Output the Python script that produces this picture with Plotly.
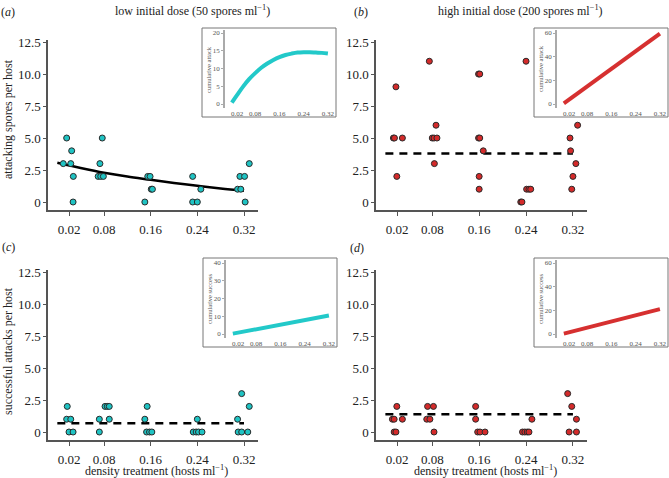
import plotly.graph_objects as go

W, H = 669, 478

# ---------------- data ----------------
density_ticks = [0.02, 0.08, 0.16, 0.24, 0.32]
density_labels = ["0.02", "0.08", "0.16", "0.24", "0.32"]
y_ticks = [0, 2.5, 5, 7.5, 10, 12.5]
y_labels = ["0", "2.5", "5.0", "7.5", "10.0", "12.5"]

# (a) attacking spores per host, low dose (jittered densities)
a_x = [0.016, 0.077, 0.0246, 0.0102, 0.023, 0.073, 0.329, 0.0274, 0.070, 0.0744, 0.0789,
       0.155, 0.159, 0.232, 0.313, 0.321, 0.161, 0.163, 0.246, 0.309, 0.3145,
       0.027, 0.150, 0.232, 0.240, 0.322]
a_y = [5, 5, 4, 3, 3, 3, 3, 2, 2, 2, 2,
       2, 2, 2, 2, 2, 1, 1, 1, 1, 1,
       0, 0, 0, 0, 0]
a_fit_x = [0.0, 0.04, 0.08, 0.12, 0.16, 0.20, 0.24, 0.28, 0.32]
a_fit_y = [3.07, 2.66, 2.29, 1.99, 1.74, 1.49, 1.27, 1.06, 0.88]

# (b) attacking spores per host, high dose
b_x = [0.075, 0.240, 0.159, 0.161, 0.018, 0.0864, 0.328, 0.0137, 0.0155, 0.029, 0.080,
       0.083, 0.088, 0.159, 0.161, 0.315, 0.167, 0.316, 0.0836, 0.325, 0.0195, 0.160,
       0.320, 0.160, 0.241, 0.245, 0.248, 0.318, 0.231, 0.233]
b_y = [11, 11, 10, 10, 9, 6, 6, 5, 5, 5, 5,
       5, 5, 5, 5, 5, 4, 4, 3, 3, 2, 2,
       2, 1, 1, 1, 1, 1, 0, 0]
b_mean = 3.8

# (c) successful attacks per host, low dose
c_x = [0.017, 0.016, 0.023, 0.020, 0.027, 0.0818, 0.0857, 0.089, 0.072, 0.089, 0.072,
       0.154, 0.150, 0.153, 0.158, 0.162, 0.240, 0.233, 0.238, 0.242, 0.248,
       0.316, 0.329, 0.309, 0.310, 0.316, 0.3265]
c_y = [2, 1, 1, 0, 0, 2, 2, 2, 1, 1, 0,
       2, 1, 0, 0, 0, 1, 0, 0, 0, 0,
       3, 2, 1, 0, 0, 0]
c_mean = 0.68

# (d) successful attacks per host, high dose
d_x = [0.0195, 0.012, 0.015, 0.029, 0.015, 0.018, 0.072, 0.082, 0.0706, 0.076, 0.083,
       0.154, 0.154, 0.1575, 0.1614, 0.170, 0.250, 0.234, 0.238, 0.242, 0.245,
       0.311, 0.318, 0.326, 0.3135, 0.326]
d_y = [2, 1, 1, 1, 0, 0, 2, 2, 1, 1, 0,
       2, 1, 0, 0, 0, 1, 0, 0, 0, 0,
       3, 2, 1, 0, 0]
d_mean = 1.38

mean_x = [0.0, 0.32]

# insets: cumulative curves
ia_x = [0.003, 0.02, 0.04, 0.06, 0.08, 0.10, 0.12, 0.14, 0.16, 0.18, 0.20, 0.22, 0.24, 0.26, 0.28, 0.30, 0.32]
ia_y = [0.4, 2.5, 4.9, 7.0, 8.7, 10.2, 11.4, 12.4, 13.2, 13.8, 14.2, 14.5, 14.6, 14.6, 14.5, 14.4, 14.2]
ib_x = [0.003, 0.32]
ib_y = [0.5, 59.5]
ic_x = [0.003, 0.32]
ic_y = [0.2, 10.4]
id_x = [0.003, 0.32]
id_y = [0.3, 21.0]

# ---------------- styling ----------------
CYAN = "#1fc3c3"
CYAN_LINE = "#22c9c9"
RED = "#d42a2a"
RED_LINE = "#d63030"
SERIF = "Liberation Serif, Times New Roman, serif"
AX = "#555555"


def px(x):
    return x / W


def py(y):
    return 1 - y / H


fig = go.Figure()


def scatter(xs, ys, color, xa, ya):
    fig.add_trace(go.Scatter(x=xs, y=ys, mode="markers", xaxis=xa, yaxis=ya,
                             marker=dict(size=6, color=color, line=dict(color="#2a2a2a", width=1)),
                             showlegend=False, hoverinfo="skip"))


def line(xs, ys, xa, ya, color="black", width=2.5, dash="solid", shape="linear"):
    fig.add_trace(go.Scatter(x=xs, y=ys, mode="lines", xaxis=xa, yaxis=ya,
                             line=dict(color=color, width=width, dash=dash, shape=shape),
                             showlegend=False, hoverinfo="skip"))


DASH = "8px,6px"
# panel a
line(a_fit_x, a_fit_y, "x", "y", shape="spline")
scatter(a_x, a_y, CYAN, "x", "y")
# panel b
line(mean_x, [b_mean, b_mean], "x2", "y2", dash=DASH)
scatter(b_x, b_y, RED, "x2", "y2")
# panel c
line(mean_x, [c_mean, c_mean], "x3", "y3", dash=DASH)
scatter(c_x, c_y, CYAN, "x3", "y3")
# panel d
line(mean_x, [d_mean, d_mean], "x4", "y4", dash=DASH)
scatter(d_x, d_y, RED, "x4", "y4")
# insets
line(ia_x, ia_y, "x5", "y5", color=CYAN_LINE, width=4, shape="spline")
line(ib_x, ib_y, "x6", "y6", color=RED_LINE, width=4)
line(ic_x, ic_y, "x7", "y7", color=CYAN_LINE, width=4)
line(id_x, id_y, "x8", "y8", color=RED_LINE, width=4)

XR = [-0.016, 0.344]
YR = [-0.625, 12.66]


def main_x(dom, anchor):
    return dict(domain=dom, range=XR, anchor=anchor, tickvals=density_ticks, ticktext=density_labels,
                showline=True, linecolor=AX, linewidth=1.5, ticks="outside", ticklen=4,
                ticklabelstandoff=3,
                tickcolor=AX, tickwidth=1, showgrid=False, zeroline=False,
                tickfont=dict(family=SERIF, size=13, color="#222"), automargin=False, fixedrange=True)


def main_y(dom, anchor):
    return dict(domain=dom, range=YR, anchor=anchor, tickvals=y_ticks, ticktext=y_labels,
                showline=True, linecolor=AX, linewidth=1.5, ticks="outside", ticklen=3,
                tickcolor=AX, tickwidth=1, showgrid=False, zeroline=False,
                tickfont=dict(family=SERIF, size=13, color="#222"), automargin=False, fixedrange=True)


layout = dict(
    width=W, height=H, margin=dict(l=0, r=0, t=0, b=0),
    paper_bgcolor="white", plot_bgcolor="rgba(0,0,0,0)",
    showlegend=False,
)

# main panels
dom_top = [py(210), py(40)]
dom_bot = [py(440), py(270)]
dom_left = [px(48), px(258)]
dom_right = [px(376), px(587)]
layout["xaxis"] = main_x(dom_left, "y")
layout["yaxis"] = main_y(dom_top, "x")
layout["xaxis2"] = main_x(dom_right, "y2")
layout["yaxis2"] = main_y(dom_top, "x2")
layout["xaxis3"] = main_x(dom_left, "y3")
layout["yaxis3"] = main_y(dom_bot, "x3")
layout["xaxis4"] = main_x(dom_right, "y4")
layout["yaxis4"] = main_y(dom_bot, "x4")

# insets: (box_left, box_top, ymax, yticks, title)
insets = [
    (202, 28, 20, [0, 5, 10, 15, 20], "cumulative attack"),
    (534, 28, 60, [0, 20, 40, 60], "cumulative attack"),
    (203, 258, 40, [0, 10, 20, 30, 40], "cumulative success"),
    (534, 258, 60, [0, 20, 40, 60], "cumulative success"),
]
shapes = []
annotations = []
for i, (bl, bt, ymax, yt, title) in enumerate(insets):
    n = i + 5
    per = 71.0 / ymax
    ylo = -4.0 / per
    yhi = ymax + 3.0 / per
    layout[f"xaxis{n}"] = dict(
        domain=[px(bl + 23), px(bl + 130)], range=[-0.0196, 0.3335], anchor=f"y{n}",
        tickvals=density_ticks, ticktext=density_labels, showline=False, ticks="",
        showgrid=False, zeroline=False, automargin=False, fixedrange=True,
        tickfont=dict(family=SERIF, size=7, color="#555"))
    layout[f"yaxis{n}"] = dict(
        domain=[py(bt + 80), py(bt + 2)], range=[ylo, yhi], anchor=f"x{n}",
        tickvals=yt, ticktext=[str(v) for v in yt], showline=True, linecolor="#aaaaaa", linewidth=1.5,
        ticks="outside", ticklen=2, tickcolor="#aaaaaa", showgrid=False, zeroline=False,
        automargin=False, fixedrange=True,
        tickfont=dict(family=SERIF, size=7, color="#555"))
    shapes.append(dict(type="rect", xref="paper", yref="paper",
                       x0=px(bl), x1=px(bl + 134), y0=py(bt + 89), y1=py(bt),
                       line=dict(color="#777777", width=1), layer="below"))
    annotations.append(dict(text=title, xref="paper", yref="paper", x=px(bl + 6), y=py(bt + 41),
                            textangle=-90, showarrow=False, xanchor="center", yanchor="middle",
                            font=dict(family=SERIF, size=6.5, color="#555")))


def ann(text, x, y, size=12, angle=0):
    annotations.append(dict(text=text, xref="paper", yref="paper", x=px(x), y=py(y), showarrow=False,
                            xanchor="center", yanchor="middle", textangle=angle,
                            font=dict(family=SERIF, size=size, color="#222")))


ann("(<i>a</i>)", 8, 12)
ann("(<i>b</i>)", 361, 12)
ann("(<i>c</i>)", 8, 247)
ann("(<i>d</i>)", 357, 248)
ann("low initial dose (50 spores ml<sup>−1</sup>)", 192, 11)
ann("high initial dose (200 spores ml<sup>−1</sup>)", 520, 11)
ann("attacking spores per host", 8, 119, angle=-90)
ann("successful attacks per host", 8, 351, angle=-90)
ann("density treatment (hosts ml<sup>−1</sup>)", 156, 470)
ann("density treatment (hosts ml<sup>−1</sup>)", 485, 470)

layout["shapes"] = shapes
layout["annotations"] = annotations
fig.update_layout(**layout)

fig.write_html("out.html", config={"displayModeBar": False},
               post_script="document.body.style.margin='0';document.body.style.padding='0';")
